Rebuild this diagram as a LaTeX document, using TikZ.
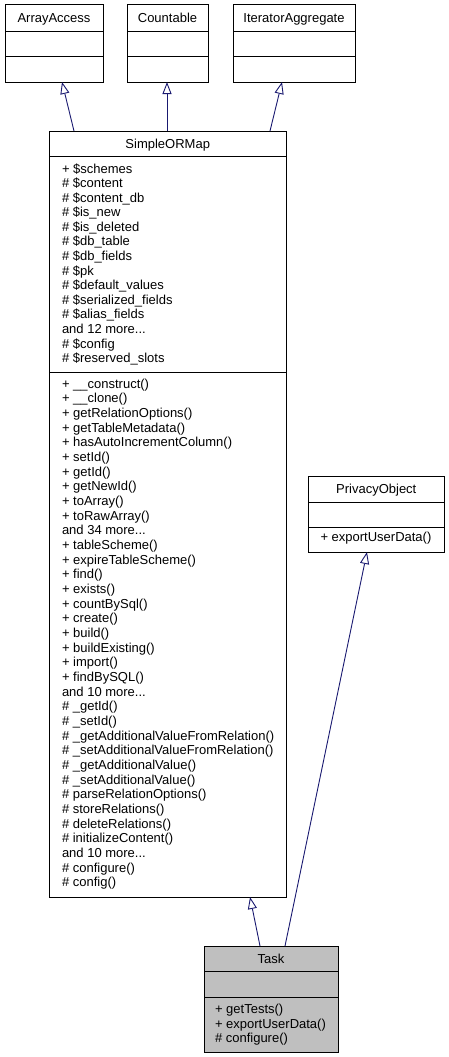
\documentclass[tikz,border=0pt]{standalone}
\usepackage{fontspec}
\setmainfont{Liberation Sans}
\usetikzlibrary{arrows.meta}
\definecolor{edgeblue}{HTML}{191970}
\definecolor{taskgray}{HTML}{BFBFBF}
\newcommand\mydots{...}
\begin{document}
\begin{tikzpicture}[x=1pt,y=-1pt,
  every node/.style={inner sep=0pt,outer sep=0pt,font=\fontsize{13}{14.6}\selectfont},
  classbox/.style={draw=black,line width=1pt},
  sepline/.style={draw=black,line width=1pt},
  member/.style={anchor=base west},
  title/.style={anchor=base},
  inh/.style={draw=edgeblue,line width=0.9pt,-{Triangle[open,width=9pt,length=12pt,fill=white]}}
]
\useasboundingbox (0,0) rectangle (449,1057);

% ArrayAccess
\draw[classbox] (5,5) rectangle (103,82);
\draw[sepline] (5,31.5) -- (103,31.5);
\draw[sepline] (5,57) -- (103,57);
\node[title] (aa) at (54,22.5) {ArrayAccess};
\coordinate (aaB) at (62,82);

% Countable
\draw[classbox] (127,5) rectangle (208,82);
\draw[sepline] (127,31.5) -- (208,31.5);
\draw[sepline] (127,57) -- (208,57);
\node[title] (ct) at (167.5,22.5) {Countable};
\coordinate (ctB) at (167,82);

% IteratorAggregate
\draw[classbox] (233,5) rectangle (355,82);
\draw[sepline] (233,31.5) -- (355,31.5);
\draw[sepline] (233,57) -- (355,57);
\node[title] (ia) at (294,22.5) {IteratorAggregate};
\coordinate (iaB) at (282,82);

% SimpleORMap
\draw[classbox] (49.5,131) rectangle (286,897);
\draw[sepline] (49.5,156) -- (286,156);
\draw[sepline] (49.5,372.5) -- (286,372.5);
\node[title] (som) at (167.75,148) {SimpleORMap};
\foreach \t [count=\i] in {+ \$schemes,\# \$content,\# \$content\_db,\# \$is\_new,\# \$is\_deleted,\# \$db\_table,\# \$db\_fields,\# \$pk,\# \$default\_values,\# \$serialized\_fields,\# \$alias\_fields,and 12 more\mydots,\# \$config,\# \$reserved\_slots}
  \node[member] (soma\i) at (62,{173+(\i-1)*14.59}) {\t};
\foreach \t [count=\i] in {+ \_\_construct(),+ \_\_clone(),+ getRelationOptions(),+ getTableMetadata(),+ hasAutoIncrementColumn(),+ setId(),+ getId(),+ getNewId(),+ toArray(),+ toRawArray(),and 34 more\mydots,+ tableScheme(),+ expireTableScheme(),+ find(),+ exists(),+ countBySql(),+ create(),+ build(),+ buildExisting(),+ import(),+ findBySQL(),and 10 more\mydots,\# \_getId(),\# \_setId(),\# \_getAdditionalValueFromRelation(),\# \_setAdditionalValueFromRelation(),\# \_getAdditionalValue(),\# \_setAdditionalValue(),\# parseRelationOptions(),\# storeRelations(),\# deleteRelations(),\# initializeContent(),and 10 more\mydots,\# configure(),\# config()}
  \node[member] (somm\i) at (62,{388+(\i-1)*14.67}) {\t};
\coordinate (somT1) at (74,131);
\coordinate (somT2) at (167,131);
\coordinate (somT3) at (270,131);
\coordinate (somB) at (250,897);

% PrivacyObject
\draw[classbox] (308.5,476) rectangle (444,552);
\draw[sepline] (308.5,502) -- (444,502);
\draw[sepline] (308.5,527) -- (444,527);
\node[title] (po) at (376.25,493) {PrivacyObject};
\node[member] (pom1) at (320.5,541) {+ exportUserData()};
\coordinate (poB) at (367,552);

% Task
\draw[classbox,fill=taskgray] (204,946) rectangle (338,1052);
\draw[sepline] (204,971) -- (338,971);
\draw[sepline] (204,997) -- (338,997);
\node[title] (task) at (271,963) {Task};
\foreach \t [count=\i] in {+ getTests(),+ exportUserData(),\# configure()}
  \node[member] (taskm\i) at (215,{1013.5+(\i-1)*14.5}) {\t};
\coordinate (taskT1) at (260,946);
\coordinate (taskT2) at (285,946);

% inheritance edges
\draw[inh] (somT1) -- (aaB);
\draw[inh] (somT2) -- (ctB);
\draw[inh] (somT3) -- (iaB);
\draw[inh] (taskT1) -- (somB);
\draw[inh] (taskT2) -- (poB);
\end{tikzpicture}
\end{document}
